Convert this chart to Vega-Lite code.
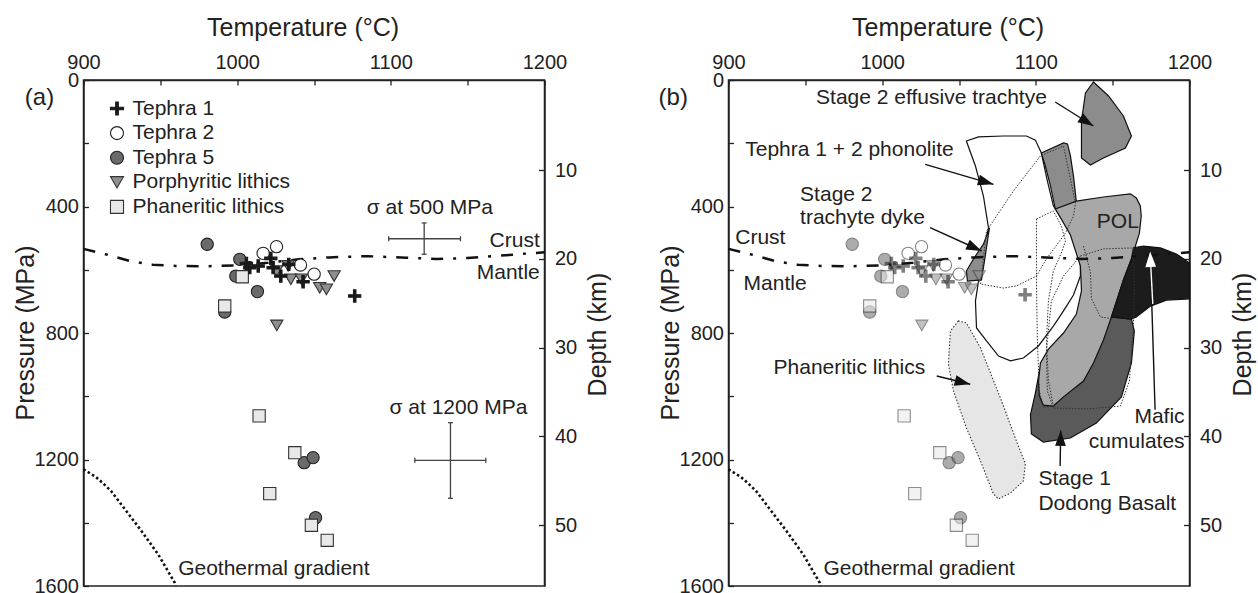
{
"$schema":"https://vega.github.io/schema/vega-lite/v6.json",
"background":"white",
"padding":{"left":13.5,"top":15,"right":0,"bottom":0},
"spacing":45,
"datasets":{
"ptsA":[
{"T":980.5,"P":519.5,"type":"Tephra 5"},{"T":1001.7,"P":567,"type":"Tephra 5"},{"T":999.1,"P":620,"type":"Tephra 5"},{"T":1013.2,"P":669,"type":"Tephra 5"},{"T":991.9,"P":733.6,"type":"Tephra 5"},{"T":1043.6,"P":1210,"type":"Tephra 5"},{"T":1049.4,"P":1194,"type":"Tephra 5"},{"T":1051,"P":1384,"type":"Tephra 5"},
{"T":1003.3,"P":622,"type":"Phaneritic lithics"},{"T":991.9,"P":714.6,"type":"Phaneritic lithics"},{"T":1014.3,"P":1062,"type":"Phaneritic lithics"},{"T":1037.5,"P":1178.5,"type":"Phaneritic lithics"},{"T":1021.2,"P":1308,"type":"Phaneritic lithics"},{"T":1048.3,"P":1408,"type":"Phaneritic lithics"},{"T":1058.6,"P":1455.5,"type":"Phaneritic lithics"},
{"T":1025.6,"P":604,"type":"Porphyritic lithics"},{"T":1033.2,"P":588,"type":"Porphyritic lithics"},{"T":1034.9,"P":630,"type":"Porphyritic lithics"},{"T":1041.8,"P":630,"type":"Porphyritic lithics"},{"T":1053.7,"P":657,"type":"Porphyritic lithics"},{"T":1058.1,"P":662,"type":"Porphyritic lithics"},{"T":1063.1,"P":620,"type":"Porphyritic lithics"},{"T":1025.8,"P":776,"type":"Porphyritic lithics"},
{"T":1016.9,"P":548,"type":"Tephra 2"},{"T":1025.6,"P":527,"type":"Tephra 2"},{"T":1041.2,"P":585,"type":"Tephra 2"},{"T":1050.1,"P":614,"type":"Tephra 2"},
{"T":1006,"P":580,"type":"Tephra 1"},{"T":1008.2,"P":593.5,"type":"Tephra 1"},{"T":1013.7,"P":588,"type":"Tephra 1"},{"T":1021.9,"P":564,"type":"Tephra 1"},{"T":1023.4,"P":593.5,"type":"Tephra 1"},{"T":1028.4,"P":620,"type":"Tephra 1"},{"T":1033.6,"P":583,"type":"Tephra 1"},{"T":1042.9,"P":638,"type":"Tephra 1"},{"T":1076.5,"P":683,"type":"Tephra 1"}
],
"ptsB":[
{"T":980.5,"P":519.5,"type":"Tephra 5"},{"T":1001.7,"P":567,"type":"Tephra 5"},{"T":999.1,"P":620,"type":"Tephra 5"},{"T":1013.2,"P":669,"type":"Tephra 5"},{"T":991.9,"P":733.6,"type":"Tephra 5"},{"T":1043.6,"P":1210,"type":"Tephra 5"},{"T":1049.4,"P":1194,"type":"Tephra 5"},{"T":1051,"P":1384,"type":"Tephra 5"},
{"T":1003.3,"P":622,"type":"Phaneritic lithics"},{"T":991.9,"P":714.6,"type":"Phaneritic lithics"},{"T":1014.3,"P":1062,"type":"Phaneritic lithics"},{"T":1037.5,"P":1178.5,"type":"Phaneritic lithics"},{"T":1021.2,"P":1308,"type":"Phaneritic lithics"},{"T":1048.3,"P":1408,"type":"Phaneritic lithics"},{"T":1058.6,"P":1455.5,"type":"Phaneritic lithics"},
{"T":1025.6,"P":604,"type":"Porphyritic lithics"},{"T":1033.2,"P":588,"type":"Porphyritic lithics"},{"T":1034.9,"P":630,"type":"Porphyritic lithics"},{"T":1041.8,"P":630,"type":"Porphyritic lithics"},{"T":1053.7,"P":657,"type":"Porphyritic lithics"},{"T":1058.1,"P":662,"type":"Porphyritic lithics"},{"T":1063.1,"P":620,"type":"Porphyritic lithics"},{"T":1025.8,"P":776,"type":"Porphyritic lithics"},
{"T":1016.9,"P":548,"type":"Tephra 2"},{"T":1025.6,"P":527,"type":"Tephra 2"},{"T":1041.2,"P":585,"type":"Tephra 2"},{"T":1050.1,"P":614,"type":"Tephra 2"},
{"T":1006,"P":580,"type":"Tephra 1"},{"T":1008.2,"P":593.5,"type":"Tephra 1"},{"T":1013.7,"P":588,"type":"Tephra 1"},{"T":1021.9,"P":564,"type":"Tephra 1"},{"T":1023.4,"P":593.5,"type":"Tephra 1"},{"T":1028.4,"P":620,"type":"Tephra 1"},{"T":1033.6,"P":583,"type":"Tephra 1"},{"T":1042.9,"P":638,"type":"Tephra 1"},{"T":1093,"P":679,"type":"Tephra 1"}
],
"crust":[{"T":900,"P":534},{"T":915,"P":552},{"T":930,"P":572},{"T":945,"P":584},{"T":960,"P":588},{"T":980,"P":589},{"T":1000,"P":586},{"T":1020,"P":578},{"T":1040,"P":567},{"T":1060,"P":561},{"T":1085,"P":557},{"T":1110,"P":562},{"T":1130,"P":566},{"T":1150,"P":563},{"T":1170,"P":556},{"T":1185,"P":550},{"T":1200,"P":545}],
"geo":[{"T":900,"P":1231},{"T":908,"P":1255},{"T":912,"P":1272},{"T":918,"P":1300},{"T":937.7,"P":1426},{"T":948.6,"P":1500},{"T":959.4,"P":1590},{"T":960,"P":1600}],
"sigma":[
{"T":1098.6,"P":502,"T2":1145.3,"P2":502},{"T":1098.6,"P":494,"T2":1098.6,"P2":510},{"T":1145.3,"P":494,"T2":1145.3,"P2":510},
{"T":1121.7,"P":452,"T2":1121.7,"P2":551},{"T":1120.1,"P":452,"T2":1123.3,"P2":452},{"T":1120.1,"P":551,"T2":1123.3,"P2":551},
{"T":1115.6,"P":1202.5,"T2":1161.8,"P2":1202.5},{"T":1115.6,"P":1194.5,"T2":1115.6,"P2":1210.5},{"T":1161.8,"P":1194.5,"T2":1161.8,"P2":1210.5},
{"T":1138.8,"P":1083.6,"T2":1138.8,"P2":1322.7},{"T":1137.2,"P":1083.6,"T2":1140.4,"P2":1083.6},{"T":1137.2,"P":1322.7,"T2":1140.4,"P2":1322.7}
],
"titleTop":[{"T":1042.9,"P":-139,"label":"Temperature (°C)"}],
"titleLeft":[{"T":868.1,"P":800,"label":"Pressure (MPa)"}],
"titleRight":[{"T":1240.3,"P":805,"label":"Depth (km)"}],
"txtA_big":[{"T":861.8,"P":57,"label":"(a)"}],
"txtA_left":[{"T":961.6,"P":1546,"label":"Geothermal gradient"}],
"txtA_center":[{"T":1125.4,"P":405,"label":"σ at 500 MPa"},{"T":1144,"P":1035.6,"label":"σ at 1200 MPa"}],
"txtA_right":[{"T":1196.9,"P":509,"label":"Crust"},{"T":1196.9,"P":609,"label":"Mantle"}],
"txtB_big":[{"T":854.5,"P":57,"label":"(b)"}],
"txtB_left":[{"T":957,"P":57,"label":"Stage 2 effusive trachtye"},{"T":910.9,"P":221,"label":"Tephra 1 + 2 phonolite"},{"T":946.6,"P":364,"label":"Stage 2"},{"T":946.6,"P":436,"label":"trachyte dyke"},{"T":904.4,"P":498.6,"label":"Crust"},{"T":909.8,"P":645,"label":"Mantle"},{"T":929.3,"P":911,"label":"Phaneritic lithics"},{"T":961.8,"P":1546,"label":"Geothermal gradient"},{"T":1139.7,"P":449,"label":"POL"},{"T":1101.7,"P":1262,"label":"Stage 1"},{"T":1101.7,"P":1340.6,"label":"Dodong Basalt"}],
"txtB_right":[{"T":1196.8,"P":1066,"label":"Mafic"},{"T":1196.8,"P":1144,"label":"cumulates"}],
"shafts":[{"T":1112.6,"P":69.6,"T2":1137.5,"P2":145.5},{"T":1028,"P":266.6,"T2":1072.4,"P2":329.8},{"T":1031.2,"P":467,"T2":1064.8,"P2":540.7},{"T":1035.5,"P":936,"T2":1057.3,"P2":962.2},{"T":1177.6,"P":1042.5,"T2":1174.4,"P2":542.3},{"T":1115.8,"P":1220.5,"T2":1116.2,"P2":1108}],
"shaftWhite":[{"T":1176.1,"P":708,"T2":1174.5,"P2":560}],
"heads":[{"T":1137.5,"P":145.5,"angle":122},{"T":1072.4,"P":329.8,"angle":106},{"T":1064.8,"P":540.7,"angle":114},{"T":1057.3,"P":962.2,"angle":104},{"T":1116.2,"P":1108,"angle":1}],
"headWhite":[{"T":1174.4,"P":542.3,"angle":358}],
"phan":[{"T":1049.6,"P":762,"i":0},{"T":1044.4,"P":794,"i":1},{"T":1043.1,"P":898,"i":2},{"T":1046.4,"P":983,"i":3},{"T":1054.8,"P":1100,"i":4},{"T":1064,"P":1205,"i":5},{"T":1072.4,"P":1309,"i":6},{"T":1075.7,"P":1325,"i":7},{"T":1083.5,"P":1306,"i":8},{"T":1091.9,"P":1268,"i":9},{"T":1093.2,"P":1214,"i":10},{"T":1087.4,"P":1142,"i":11},{"T":1077,"P":1006,"i":12},{"T":1064,"P":847,"i":13},{"T":1054.8,"P":768,"i":14}],
"phono":[{"T":1054.8,"P":193,"i":0},{"T":1062.7,"P":180,"i":1},{"T":1078.9,"P":177,"i":2},{"T":1093.9,"P":177,"i":3},{"T":1099.7,"P":190,"i":4},{"T":1103.6,"P":231,"i":5},{"T":1107.5,"P":319,"i":6},{"T":1111.4,"P":398,"i":7},{"T":1118,"P":446,"i":8},{"T":1122.5,"P":484,"i":9},{"T":1127.1,"P":541,"i":10},{"T":1129,"P":579,"i":11},{"T":1129,"P":620,"i":12},{"T":1124.5,"P":680,"i":13},{"T":1118,"P":730,"i":14},{"T":1111.4,"P":778,"i":15},{"T":1101.7,"P":841,"i":16},{"T":1091.9,"P":879,"i":17},{"T":1083.5,"P":888,"i":18},{"T":1075.7,"P":873,"i":19},{"T":1067.9,"P":825,"i":20},{"T":1061.4,"P":784,"i":21},{"T":1060.7,"P":699,"i":22},{"T":1062.7,"P":636,"i":23},{"T":1064.6,"P":572,"i":24},{"T":1069.2,"P":468,"i":25},{"T":1065.9,"P":367,"i":26},{"T":1060.7,"P":272,"i":27}],
"strip":[{"T":1103.6,"P":231,"i":0},{"T":1118,"P":199,"i":1},{"T":1120.6,"P":202,"i":2},{"T":1122.5,"P":240,"i":3},{"T":1124.5,"P":304,"i":4},{"T":1126.4,"P":386,"i":5},{"T":1112.7,"P":408,"i":6},{"T":1109.5,"P":335,"i":7},{"T":1106.2,"P":272,"i":8}],
"dodong":[{"T":1149.2,"P":749,"i":0},{"T":1162.2,"P":756,"i":1},{"T":1164.1,"P":794,"i":2},{"T":1162.2,"P":895,"i":3},{"T":1155.7,"P":1002,"i":4},{"T":1139.4,"P":1085,"i":5},{"T":1122.5,"P":1132,"i":6},{"T":1104.9,"P":1145,"i":7},{"T":1097.1,"P":1119,"i":8},{"T":1096.5,"P":1059,"i":9},{"T":1099.7,"P":990,"i":10},{"T":1102.3,"P":920,"i":11},{"T":1118,"P":857,"i":12},{"T":1137.5,"P":794,"i":13}],
"pol":[{"T":1112.7,"P":408,"i":0},{"T":1126.4,"P":383,"i":1},{"T":1144,"P":370,"i":2},{"T":1161.5,"P":360,"i":3},{"T":1165.4,"P":373,"i":4},{"T":1168,"P":398,"i":5},{"T":1168.6,"P":430,"i":6},{"T":1167.4,"P":484,"i":7},{"T":1164.8,"P":525,"i":8},{"T":1162.2,"P":566,"i":9},{"T":1157,"P":632,"i":10},{"T":1149.2,"P":749,"i":11},{"T":1144,"P":822,"i":12},{"T":1137.5,"P":895,"i":13},{"T":1131,"P":952,"i":14},{"T":1118,"P":1002,"i":15},{"T":1111.4,"P":1031,"i":16},{"T":1104.9,"P":1028,"i":17},{"T":1102.3,"P":999,"i":18},{"T":1101.7,"P":952,"i":19},{"T":1103,"P":895,"i":20},{"T":1108.2,"P":851,"i":21},{"T":1118,"P":800,"i":22},{"T":1126.4,"P":740,"i":23},{"T":1129.7,"P":667,"i":24},{"T":1129,"P":588,"i":25},{"T":1122.5,"P":490,"i":26},{"T":1116.6,"P":440,"i":27}],
"mafic":[{"T":1163.5,"P":531,"i":0},{"T":1170,"P":525,"i":1},{"T":1181.1,"P":531,"i":2},{"T":1191.5,"P":550,"i":3},{"T":1200,"P":579,"i":4},{"T":1200,"P":692,"i":5},{"T":1185,"P":696,"i":6},{"T":1174.6,"P":715,"i":7},{"T":1165.4,"P":749,"i":8},{"T":1162.2,"P":756,"i":9},{"T":1149.2,"P":749,"i":10},{"T":1157,"P":632,"i":11},{"T":1162.2,"P":566,"i":12}],
"effusive":[{"T":1137.5,"P":6.3,"i":0},{"T":1147.3,"P":50.6,"i":1},{"T":1157,"P":113.8,"i":2},{"T":1162.2,"P":177,"i":3},{"T":1158.3,"P":215,"i":4},{"T":1144,"P":246.6,"i":5},{"T":1135.5,"P":268.8,"i":6},{"T":1129.7,"P":246.6,"i":7},{"T":1129.7,"P":129.6,"i":8},{"T":1132.3,"P":41,"i":9}],
"dyke":[{"T":1069.8,"P":468,"i":0},{"T":1065.9,"P":519,"i":1},{"T":1059.4,"P":566,"i":2},{"T":1054.8,"P":604,"i":3},{"T":1055.5,"P":636,"i":4},{"T":1064.6,"P":632,"i":5},{"T":1066.6,"P":572,"i":6}],
"dotA":[{"T":1064,"P":645,"i":0},{"T":1067.9,"P":477.5,"i":1},{"T":1085.4,"P":351,"i":2},{"T":1103,"P":240,"i":3},{"T":1118,"P":209,"i":4},{"T":1125.8,"P":389,"i":5},{"T":1124.5,"P":430,"i":6},{"T":1119.3,"P":484,"i":7},{"T":1106.9,"P":566,"i":8},{"T":1100.4,"P":620,"i":9},{"T":1087.4,"P":651,"i":10},{"T":1078.9,"P":658,"i":11}],
"dotB":[{"T":1100.4,"P":439.5,"i":0},{"T":1111.4,"P":414,"i":1},{"T":1116.6,"P":462,"i":2},{"T":1119.3,"P":509,"i":3},{"T":1116.6,"P":547,"i":4},{"T":1111.4,"P":604,"i":5},{"T":1108.2,"P":699,"i":6},{"T":1106.9,"P":825,"i":7},{"T":1108.2,"P":952,"i":8},{"T":1111.4,"P":1031,"i":9},{"T":1104.9,"P":1034,"i":10},{"T":1102.3,"P":983,"i":11},{"T":1101,"P":825,"i":12},{"T":1100.4,"P":636,"i":13}],
"dotD":[{"T":1129,"P":556.5,"i":0},{"T":1144,"P":534,"i":1},{"T":1163.5,"P":531,"i":2},{"T":1164.1,"P":667,"i":3},{"T":1163.5,"P":775,"i":4},{"T":1160.9,"P":952,"i":5},{"T":1155,"P":1031,"i":6},{"T":1134.2,"P":1040,"i":7},{"T":1111.4,"P":1037,"i":8},{"T":1107.5,"P":983,"i":9},{"T":1106.9,"P":857,"i":10},{"T":1110.1,"P":699,"i":11},{"T":1118,"P":620,"i":12}],
"dotE":[{"T":1131,"P":525,"i":0},{"T":1135.5,"P":607,"i":1},{"T":1136.2,"P":692,"i":2},{"T":1142,"P":749,"i":3},{"T":1150.5,"P":756,"i":4}]
},
"hconcat":[
{
"width":461,"height":506,
"layer":[
{
"encoding":{
"x":{"field":"T","type":"quantitative","scale":{"domain":[900,1200],"nice":false,"zero":false},
"axis":{"orient":"top","title":null,"values":[900,950,1000,1050,1100,1150,1200],"format":"d","labelExpr":"datum.value % 100 == 0 ? datum.label : ''","tickSize":-5,"labelPadding":13,"labelFlush":false,"labelFontSize":20}},
"y":{"field":"P","type":"quantitative","scale":{"domain":[0,1600],"reverse":true,"nice":false,"zero":false},
"axis":{"orient":"left","title":null,"values":[0,200,400,600,800,1000,1200,1400,1600],"format":"d","labelExpr":"datum.value % 400 == 0 ? datum.label : ''","tickSize":-5,"labelPadding":10,"labelFlush":false,"labelFontSize":20}}
},
"layer":[
{"data":{"name":"crust"},"mark":{"type":"line","color":"#111","strokeWidth":2.5,"strokeDash":[12,10,3,10]},"encoding":{}},
{"data":{"name":"geo"},"mark":{"type":"line","color":"#111","strokeWidth":2.6,"strokeDash":[2.5,2.5]},"encoding":{}},
{"data":{"name":"sigma"},"mark":{"type":"rule","color":"#444","strokeWidth":1.3},"encoding":{"x2":{"field":"T2"},"y2":{"field":"P2"}}},
{"data":{"name":"ptsA"},"mark":{"type":"point","filled":true,"size":150,"strokeWidth":1.1,"opacity":1},
"encoding":{
"shape":{"field":"type","type":"nominal","scale":{"domain":["Tephra 1","Tephra 2","Tephra 5","Porphyritic lithics","Phaneritic lithics"],"range":["M-1,-0.2H1V0.2H-1Z M-0.2,-1H0.2V1H-0.2Z","circle","circle","triangle-down","square"]},"legend":{"title":null,"orient":"none","legendX":23,"legendY":18,"symbolSize":170,"labelFontSize":21,"labelOffset":5,"rowPadding":2.6,"padding":0,"symbolStrokeWidth":1.1,"labelColor":"#222"}},
"fill":{"field":"type","type":"nominal","scale":{"domain":["Tephra 1","Tephra 2","Tephra 5","Porphyritic lithics","Phaneritic lithics"],"range":["#1a1a1a","#ffffff","#6a6a6a","#8f8f8f","#e8e8e8"]},"legend":{"title":null,"orient":"none","legendX":23,"legendY":18,"symbolSize":170,"labelFontSize":21,"labelOffset":5,"rowPadding":2.6,"padding":0,"symbolStrokeWidth":1.1,"labelColor":"#222"}},
"stroke":{"field":"type","type":"nominal","scale":{"domain":["Tephra 1","Tephra 2","Tephra 5","Porphyritic lithics","Phaneritic lithics"],"range":["#1a1a1a","#222222","#222222","#333333","#333333"]},"legend":{"title":null,"orient":"none","legendX":23,"legendY":18,"symbolSize":170,"labelFontSize":21,"labelOffset":5,"rowPadding":2.6,"padding":0,"symbolStrokeWidth":1.1,"labelColor":"#222"}}
}},
{"data":{"name":"titleTop"},"mark":{"type":"text","align":"center","baseline":"alphabetic","fontSize":25},"encoding":{"text":{"field":"label"}}},
{"data":{"name":"titleLeft"},"mark":{"type":"text","align":"center","baseline":"alphabetic","fontSize":25,"angle":270},"encoding":{"text":{"field":"label"}}},
{"data":{"name":"titleRight"},"mark":{"type":"text","align":"center","baseline":"alphabetic","fontSize":25,"angle":270},"encoding":{"text":{"field":"label"}}},
{"data":{"name":"txtA_big"},"mark":{"type":"text","align":"left","baseline":"middle","fontSize":24},"encoding":{"text":{"field":"label"}}},
{"data":{"name":"txtA_left"},"mark":{"type":"text","align":"left","baseline":"middle","fontSize":21},"encoding":{"text":{"field":"label"}}},
{"data":{"name":"txtA_center"},"mark":{"type":"text","align":"center","baseline":"middle","fontSize":21},"encoding":{"text":{"field":"label"}}},
{"data":{"name":"txtA_right"},"mark":{"type":"text","align":"right","baseline":"middle","fontSize":21},"encoding":{"text":{"field":"label"}}}
]
},
{"data":{"values":[{"depth":0},{"depth":57}]},"mark":{"type":"point","opacity":0},
"encoding":{"x":{"value":0},"y":{"field":"depth","type":"quantitative","scale":{"domain":[-0.15,56.85],"reverse":true,"nice":false,"zero":false},
"axis":{"orient":"right","title":null,"values":[10,20,30,40,50],"tickSize":-6,"labelPadding":16,"labelFlush":false,"labelFontSize":20}}}}
],
"resolve":{"scale":{"y":"independent"}}
},
{
"width":461,"height":506,
"layer":[
{
"encoding":{
"x":{"field":"T","type":"quantitative","scale":{"domain":[900,1200],"nice":false,"zero":false},
"axis":{"orient":"top","title":null,"values":[900,950,1000,1050,1100,1150,1200],"format":"d","labelExpr":"datum.value % 100 == 0 ? datum.label : ''","tickSize":-5,"labelPadding":13,"labelFlush":false,"labelFontSize":20}},
"y":{"field":"P","type":"quantitative","scale":{"domain":[0,1600],"reverse":true,"nice":false,"zero":false},
"axis":{"orient":"left","title":null,"values":[0,200,400,600,800,1000,1200,1400,1600],"format":"d","labelExpr":"datum.value % 400 == 0 ? datum.label : ''","tickSize":-5,"labelPadding":10,"labelFlush":false,"labelFontSize":20}}
},
"layer":[
{"data":{"name":"phan"},"mark":{"type":"line","interpolate":"linear-closed","fill":"#e6e6e6","color":"#333","strokeWidth":1.1,"strokeDash":[1.5,1.8]},"encoding":{"order":{"field":"i","type":"quantitative"}}},
{"data":{"name":"phono"},"mark":{"type":"line","interpolate":"linear-closed","fill":"#ffffff","color":"#111","strokeWidth":1.2},"encoding":{"order":{"field":"i","type":"quantitative"}}},
{"data":{"name":"strip"},"mark":{"type":"line","interpolate":"linear-closed","fill":"#8c8c8c","color":"#111","strokeWidth":1.2},"encoding":{"order":{"field":"i","type":"quantitative"}}},
{"data":{"name":"dodong"},"mark":{"type":"line","interpolate":"linear-closed","fill":"#5a5a5a","color":"#111","strokeWidth":1.2},"encoding":{"order":{"field":"i","type":"quantitative"}}},
{"data":{"name":"pol"},"mark":{"type":"line","interpolate":"linear-closed","fill":"#a8a8a8","color":"#111","strokeWidth":1.2},"encoding":{"order":{"field":"i","type":"quantitative"}}},
{"data":{"name":"mafic"},"mark":{"type":"line","interpolate":"linear-closed","fill":"#1c1c1c","color":"#111","strokeWidth":1.2},"encoding":{"order":{"field":"i","type":"quantitative"}}},
{"data":{"name":"effusive"},"mark":{"type":"line","interpolate":"linear-closed","fill":"#8c8c8c","color":"#111","strokeWidth":1.2},"encoding":{"order":{"field":"i","type":"quantitative"}}},
{"data":{"name":"dyke"},"mark":{"type":"line","interpolate":"linear-closed","fill":"#8c8c8c","color":"#111","strokeWidth":1.2},"encoding":{"order":{"field":"i","type":"quantitative"}}},
{"data":{"name":"dotA"},"mark":{"type":"line","interpolate":"linear-closed","color":"#333","strokeWidth":1,"strokeDash":[1.5,1.5]},"encoding":{"order":{"field":"i","type":"quantitative"}}},
{"data":{"name":"dotB"},"mark":{"type":"line","interpolate":"linear-closed","color":"#333","strokeWidth":1,"strokeDash":[1.5,1.5]},"encoding":{"order":{"field":"i","type":"quantitative"}}},
{"data":{"name":"dotD"},"mark":{"type":"line","interpolate":"linear-closed","color":"#333","strokeWidth":1,"strokeDash":[1.5,1.5]},"encoding":{"order":{"field":"i","type":"quantitative"}}},
{"data":{"name":"dotE"},"mark":{"type":"line","color":"#333","strokeWidth":1,"strokeDash":[1.5,1.5]},"encoding":{"order":{"field":"i","type":"quantitative"}}},
{"data":{"name":"crust"},"mark":{"type":"line","color":"#111","strokeWidth":2.5,"strokeDash":[12,10,3,10]},"encoding":{}},
{"data":{"name":"geo"},"mark":{"type":"line","color":"#111","strokeWidth":2.6,"strokeDash":[2.5,2.5]},"encoding":{}},
{"data":{"name":"ptsB"},"mark":{"type":"point","filled":true,"size":150,"strokeWidth":1.1,"opacity":0.55},
"encoding":{
"shape":{"field":"type","type":"nominal","scale":{"domain":["Tephra 1","Tephra 2","Tephra 5","Porphyritic lithics","Phaneritic lithics"],"range":["M-1,-0.2H1V0.2H-1Z M-0.2,-1H0.2V1H-0.2Z","circle","circle","triangle-down","square"]},"legend":null},
"fill":{"field":"type","type":"nominal","scale":{"domain":["Tephra 1","Tephra 2","Tephra 5","Porphyritic lithics","Phaneritic lithics"],"range":["#1a1a1a","#ffffff","#6a6a6a","#8f8f8f","#e8e8e8"]},"legend":null},
"stroke":{"field":"type","type":"nominal","scale":{"domain":["Tephra 1","Tephra 2","Tephra 5","Porphyritic lithics","Phaneritic lithics"],"range":["#1a1a1a","#222222","#222222","#333333","#333333"]},"legend":null}
}},
{"data":{"name":"shafts"},"mark":{"type":"rule","color":"#111","strokeWidth":1.4},"encoding":{"x2":{"field":"T2"},"y2":{"field":"P2"}}},
{"data":{"name":"shaftWhite"},"mark":{"type":"rule","color":"#ffffff","strokeWidth":1.4},"encoding":{"x2":{"field":"T2"},"y2":{"field":"P2"}}},
{"data":{"name":"heads"},"mark":{"type":"point","filled":true,"shape":"M0,0L0.38,1.1L-0.38,1.1Z","size":800,"color":"#111","strokeWidth":0,"opacity":1},"encoding":{"angle":{"field":"angle","type":"quantitative","scale":null}}},
{"data":{"name":"headWhite"},"mark":{"type":"point","filled":true,"shape":"M0,0L0.38,1.1L-0.38,1.1Z","size":800,"color":"#ffffff","strokeWidth":0,"opacity":1},"encoding":{"angle":{"field":"angle","type":"quantitative","scale":null}}},
{"data":{"name":"titleTop"},"mark":{"type":"text","align":"center","baseline":"alphabetic","fontSize":25},"encoding":{"text":{"field":"label"}}},
{"data":{"name":"titleLeft"},"mark":{"type":"text","align":"center","baseline":"alphabetic","fontSize":25,"angle":270},"encoding":{"text":{"field":"label"}}},
{"data":{"name":"titleRight"},"mark":{"type":"text","align":"center","baseline":"alphabetic","fontSize":25,"angle":270},"encoding":{"text":{"field":"label"}}},
{"data":{"name":"txtB_big"},"mark":{"type":"text","align":"left","baseline":"middle","fontSize":24},"encoding":{"text":{"field":"label"}}},
{"data":{"name":"txtB_left"},"mark":{"type":"text","align":"left","baseline":"middle","fontSize":21},"encoding":{"text":{"field":"label"}}},
{"data":{"name":"txtB_right"},"mark":{"type":"text","align":"right","baseline":"middle","fontSize":21},"encoding":{"text":{"field":"label"}}}
]
},
{"data":{"values":[{"depth":0},{"depth":57}]},"mark":{"type":"point","opacity":0},
"encoding":{"x":{"value":0},"y":{"field":"depth","type":"quantitative","scale":{"domain":[-0.15,56.85],"reverse":true,"nice":false,"zero":false},
"axis":{"orient":"right","title":null,"values":[10,20,30,40,50],"tickSize":-6,"labelPadding":16,"labelFlush":false,"labelFontSize":20}}}}
],
"resolve":{"scale":{"y":"independent"}}
}
],
"resolve":{"scale":{"x":"independent","y":"independent","shape":"independent","fill":"independent","stroke":"independent"},"legend":{"shape":"independent","fill":"independent","stroke":"independent"}},
"config":{
"view":{"stroke":"#222","strokeWidth":1.5},
"font":"Liberation Sans",
"axis":{"domainColor":"#222","domainWidth":1.5,"tickColor":"#222","tickWidth":1.3,"labelColor":"#222","titleColor":"#222","labelFont":"Liberation Sans","titleFont":"Liberation Sans","labelFontSize":20,"titleFontSize":25,"titleFontWeight":"normal","grid":false,"labelOverlap":false},
"text":{"font":"Liberation Sans","color":"#222"},
"legend":{"labelFont":"Liberation Sans"}
}
}
